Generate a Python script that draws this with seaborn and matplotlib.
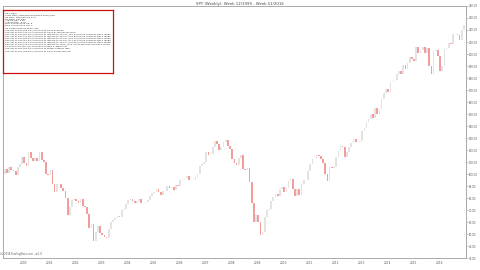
import numpy as np
import pandas as pd
import matplotlib
matplotlib.use("Agg")
import matplotlib.pyplot as plt
import seaborn as sns

# ---- data (monthly closes, price scale of the chart) ----
start_month = "1999-03"
closes = [
    # 1999 Mar-Dec
    100.0, 104.0, 101.0, 106.0, 103.0, 102.5, 99.5, 105.5, 108.0, 114.0,
    # 2000
    109.0, 107.0, 118.0, 113.0, 110.5, 113.0, 111.0, 118.0, 111.5, 110.0, 100.0, 99.5,
    # 2001
    103.0, 92.0, 85.0, 91.5, 91.5, 88.0, 86.0, 80.0, 66.0, 72.3, 78.7, 79.0,
    # 2002
    77.9, 76.1, 79.1, 73.6, 72.7, 66.5, 55.0, 58.5, 44.5, 52.0, 57.0, 51.0,
    # 2003
    49.0, 47.5, 46.5, 54.0, 60.0, 61.5, 63.0, 65.0, 64.3, 69.7, 70.5, 74.6,
    # 2004
    78.0, 79.5, 77.9, 76.2, 77.7, 79.1, 76.1, 76.1, 77.0, 78.4, 82.0, 84.3,
    # 2005
    84.9, 87.1, 84.8, 82.8, 86.2, 85.9, 89.9, 88.3, 89.1, 87.0, 90.8, 90.4,
    # 2006
    95.2, 95.5, 96.7, 98.2, 94.8, 94.6, 95.1, 97.6, 100.0, 106.5, 108.6, 109.6,
    # 2007
    118.7, 116.0, 117.0, 122.8, 127.4, 124.8, 120.4, 122.2, 126.8, 128.6, 123.2, 120.9,
    # 2008
    112.8, 109.5, 107.7, 113.6, 115.6, 104.1, 103.1, 104.9, 93.1, 75.5, 60.0, 66.0,
    # 2009
    60.0, 49.0, 52.0, 64.0, 70.0, 70.5, 77.3, 80.7, 83.6, 81.7, 87.5, 88.9,
    # 2010
    85.2, 88.2, 94.0, 95.7, 87.1, 81.3, 87.9, 82.9, 91.4, 95.4, 95.4, 102.1,
    # 2011
    108.7, 112.9, 112.3, 116.0, 114.6, 112.2, 109.2, 100.0, 94.0, 105.6, 105.1, 105.6,
    # 2012
    113.8, 119.3, 123.0, 122.1, 114.0, 118.4, 122.7, 126.2, 128.9, 126.4, 126.5, 127.4,
    # 2013
    136.1, 138.0, 143.1, 146.1, 149.9, 146.8, 155.1, 150.1, 154.4, 162.2, 167.4, 171.1,
    # 2014
    168.2, 176.4, 177.1, 178.5, 183.0, 186.0, 183.3, 191.1, 187.3, 192.1, 197.7, 196.0,
    # 2015
    193.9, 205.5, 201.1, 203.2, 205.9, 200.5, 205.3, 190.0, 183.2, 202.6, 203.4, 198.5,
    # 2016
    186.0, 189.6, 204.2, 205.1, 208.8, 208.5, 216.5, 216.8, 215.7, 211.8, 220.0, 224.5,
]
first_open = 97.0

year_labels = [str(y) for y in range(2000, 2017)]
y_ticks = list(range(30, 241, 10))

title = "SPY (Weekly): Week 12/1999 - Week 51/2016"
info_lines = [
    "Up 1 Bars",
    "Long stats_ratio/adjclose/week 2016/1/08",
    "Up Bars: 503/890 (56.5%)",
    "Dn Bars: 387/890",
    "Avg Up Bar: 1.81",
    "Avg Dn Bar: -2.03",
    "Max Consecutive Up: 8",
    "Max Consecutive Dn: 7",
    "",
    "Up 1 Bars then next bar has:",
    "278 out of 503 (55.3%) chances to close in green",
    "225 out of 503 (44.7%) chances to close in red below open",
    "412 out of 503 (81.9%) chances to retrace to 23.6% (181.23) of the previous bar's range",
    "371 out of 503 (73.8%) chances to retrace to 38.2% (179.85) of the previous bar's range",
    "330 out of 503 (65.6%) chances to retrace to 50.0% (178.74) of the previous bar's range",
    "289 out of 503 (57.5%) chances to retrace to 61.8% (177.62) of the previous bar's range",
    "217 out of 503 (43.1%) chances to retrace to 78.6% (176.05) of the previous bar's range",
    "183 out of 503 (36.4%) chances to retrace to 100% (174.02) of the previous bar's range",
    "96 out of 503 (19.1%) chances to make a lower low",
    "318 out of 503 (63.2%) chances to make a higher high",
    "145 out of 503 (28.8%) chances to close below the low",
]
footer = "(c) 2016 TradingStats.com - w.1.0"

# ---- build frame ----
dates = pd.date_range(start_month, periods=len(closes), freq="MS") + pd.Timedelta(days=15)
opens = [first_open] + closes[:-1]
df = pd.DataFrame({"date": dates, "open": opens, "close": closes})
df["down"] = df["close"] < df["open"]

sns.set_style("white")
plt.rcParams["font.family"] = ["DejaVu Sans"]

fig = plt.figure(figsize=(4.8, 2.7), dpi=100)
ax = fig.add_axes([3 / 480, 1 - 258 / 270, 463 / 480, 252 / 270])

red = "#f29c9c"
grey = "#e3e3e3"
colors = [red if d else grey for d in df["down"]]
lo = np.minimum(df["open"], df["close"])
hi = np.maximum(df["open"], df["close"])
ax.bar(df["date"], hi - lo, bottom=lo, width=24, color=colors, linewidth=0)

ax.set_xlim(pd.Timestamp("1999-03-22"), pd.Timestamp("2017-01-14"))
ax.set_ylim(30, 240)

ax.yaxis.tick_right()
ax.set_yticks(y_ticks)
ax.set_yticklabels([f"{v:.2f}" for v in y_ticks])
ax.set_xticks([pd.Timestamp(f"{y}-01-01") for y in year_labels])
ax.set_xticklabels(year_labels)
ax.tick_params(axis="y", which="both", right=True, length=1.5, width=0.4, color="#999999",
               labelsize=1.9, labelcolor="#555555", pad=0.8)
ax.tick_params(axis="x", length=0, labelsize=2.1, labelcolor="#555555", pad=2)
for s in ax.spines.values():
    s.set_color("#aaaaaa")
    s.set_linewidth(0.7)
ax.grid(False)

fig.text(0.5, 1 - 3.5 / 270, title, ha="center", va="center", fontsize=2.8, color="#444444")

# info box
box_ax = fig.add_axes([3 / 480, 1 - 73 / 270, 110 / 480, 63 / 270])
box_ax.set_xticks([])
box_ax.set_yticks([])
box_ax.set_facecolor("white")
for s in box_ax.spines.values():
    s.set_color("#cc1111")
    s.set_linewidth(0.9)
box_ax.text(0.02, 0.95, "\n".join(info_lines), ha="left", va="top", fontsize=1.75,
            color="#333333", linespacing=1.25, transform=box_ax.transAxes)

fig.text(0.0, 1 - 254 / 270, footer, ha="left", va="center", fontsize=1.8, color="#555555")

fig.savefig("out.png", dpi=100)
